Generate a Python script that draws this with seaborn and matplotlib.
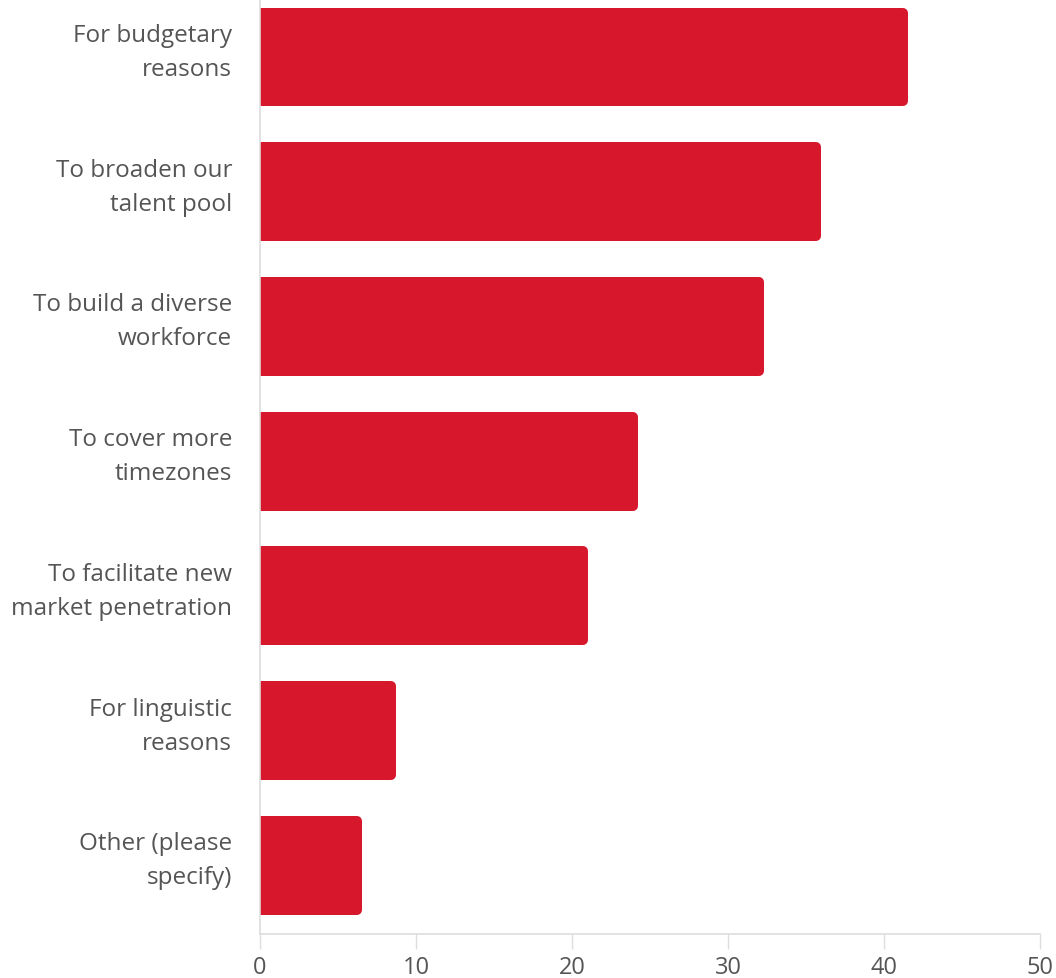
import matplotlib
matplotlib.use("Agg")
import matplotlib.pyplot as plt
import matplotlib.transforms as mtransforms
import seaborn as sns
import pandas as pd

# Reasons for hiring internationally (share of respondents)
reasons = [
    "For budgetary\nreasons",
    "To broaden our\ntalent pool",
    "To build a diverse\nworkforce",
    "To cover more\ntimezones",
    "To facilitate new\nmarket penetration",
    "For linguistic\nreasons",
    "Other (please\nspecify)",
]
shares = [41.5, 35.9, 32.3, 24.2, 21.0, 8.7, 6.5]
x_ticks = [0, 10, 20, 30, 40, 50]

BAR_RED = "#D7172B"
TEXT_GREY = "#555555"
AXIS_GREY = "#DDDDDD"

df = pd.DataFrame({"reason": reasons, "share": shares})

sns.set_theme(style="white")
plt.rcParams["font.family"] = ["Open Sans", "DejaVu Sans"]

fig = plt.figure(figsize=(10.56, 9.79), dpi=100)
ax = fig.add_axes([0.2462, 0.0449, 0.7386, 0.955])

sns.barplot(data=df, x="share", y="reason", color=BAR_RED, saturation=1,
            width=0.735, ax=ax)

# Round the right-hand corners: stroke each bar with a round join and
# pull the rectangle in by half the stroke so the outer extent is unchanged.
fig.canvas.draw()
r_px = 5.0
inv = ax.transData.inverted()
x0, y0 = inv.transform((0, 0))
x1, y1 = inv.transform((r_px, r_px))
rx, ry = abs(x1 - x0), abs(y1 - y0)
for p in ax.patches:
    x, y = p.get_x(), p.get_y()
    w, h = p.get_width(), p.get_height()
    p.set_x(x - rx)
    p.set_width(w)
    p.set_y(y + ry)
    p.set_height(h - 2 * ry)
    p.set_edgecolor(BAR_RED)
    p.set_linewidth(2 * r_px * 72 / 100)
    p.set_joinstyle("round")

ax.set_xlim(0, 50)
ax.set_ylim(6.51, -0.43)
ax.set_xticks(x_ticks)
ax.set_xlabel("")
ax.set_ylabel("")

for side in ["top", "right"]:
    ax.spines[side].set_visible(False)
for side in ["left", "bottom"]:
    ax.spines[side].set_color(AXIS_GREY)
    ax.spines[side].set_linewidth(1.2)

ax.tick_params(axis="x", length=11, width=1, color=AXIS_GREY, pad=4,
               labelsize=17, labelcolor=TEXT_GREY, bottom=True)
ax.tick_params(axis="y", length=0, pad=20, labelsize=17.5,
               labelcolor=TEXT_GREY)

# Category labels sit a little above the bar centre
lift = mtransforms.ScaledTranslation(0, 13 / 100, fig.dpi_scale_trans)
for lbl in ax.get_yticklabels():
    lbl.set_linespacing(1.55)
    lbl.set_multialignment("right")
    lbl.set_transform(lbl.get_transform() + lift)

fig.savefig("out.png", dpi=100)
